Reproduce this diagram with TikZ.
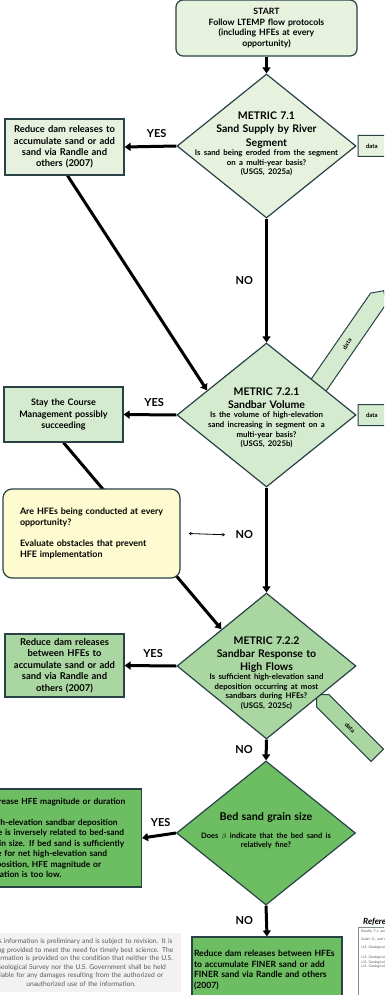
\documentclass[tikz,border=0pt]{standalone}
\usepackage{fontspec}
\setmainfont{Lato}
\usepackage{xcolor}
\usepackage{tikz}
\usetikzlibrary{arrows.meta}
\usetikzlibrary{calc}
\usetikzlibrary{shapes.geometric,shapes.symbols}
\usetikzlibrary{positioning,backgrounds}

\definecolor{rimgray}{RGB}{40,66,70}
\definecolor{palegreen}{RGB}{230,241,222}
\definecolor{lightgreen}{RGB}{213,235,207}
\definecolor{midgreen}{RGB}{170,215,161}
\definecolor{deepgreen}{RGB}{109,190,98}
\definecolor{paleyellow}{RGB}{253,251,207}
\definecolor{notegray}{RGB}{242,242,242}
\definecolor{notetext}{RGB}{90,90,90}

\begin{document}
\begin{tikzpicture}[x=1pt, y=-1pt,
        flow/.style={-{Triangle[length=6pt,width=8pt]}, line width=3pt},
        twoway/.style={{Stealth[length=3pt,width=3.5pt]}-{Stealth[length=3pt,width=3.5pt]}, line width=0.8pt},
        answer/.style={font=\bfseries\fontsize{11}{13}\selectfont, inner sep=1pt},
        box/.style={draw=rimgray, line width=1.2pt, align=center, inner sep=0pt, font=\bfseries\fontsize{9.4}{11.4}\selectfont},
        choice/.style={diamond, draw=rimgray, line width=1.2pt, minimum width=179, minimum height=144, inner sep=0pt},
        qtext/.style={align=center, text width=174, inner sep=0pt, font=\bfseries},
        tag/.style={signal, signal from=nowhere, draw=rimgray, line width=1pt, inner sep=1pt, font=\bfseries\fontsize{6}{7}\selectfont}]

            \useasboundingbox (0,0) rectangle (384,995);
            \clip (0,0) rectangle (384,995);

            % data bands, kept under the diamonds
            \draw (347,344) node[tag, fill=lightgreen, signal to=east, rotate=55.4, minimum width=120, minimum height=19] (dat2b) {data};
            \draw (350,728) node[tag, fill=midgreen, signal to=west, rotate=-45, minimum width=86, minimum height=17.5] (dat3) {data};

            \draw (266.5,28) node[box, fill=palegreen, rounded corners=7, minimum width=181, minimum height=56, text width=175, font=\bfseries\fontsize{8.7}{10.6}\selectfont] (start) {START\\ Follow LTEMP flow protocols\\ (including HFEs at every\\ opportunity)};

            \draw (266.5,146) node[choice, fill=palegreen]                 (d1) {};
            \draw (266.5,144) node[qtext]                 (d1txt) {{\fontsize{10.5}{13.3}\selectfont METRIC 7.1\\ Sand Supply by River\\ Segment\par}{\fontsize{7.8}{9.6}\selectfont Is sand being eroded from the segment\\ on a multi-year basis?\\ (USGS, 2025a)\par}};
            \draw (64.5,147) node[box, fill=palegreen, minimum width=119, minimum height=56, text width=115]                  (red1) {Reduce dam releases to\\ accumulate sand or add\\ sand via Randle and\\ others (2007)};
            \draw ([xshift=1]d1.east) node[tag, fill=palegreen, signal to=east, anchor=west, minimum width=38, minimum height=21]                  (dat1) {data};

            \draw (266.5,415) node[choice, fill=lightgreen]                 (d2) {};
            \draw (266.5,418) node[qtext]                 (d2txt) {{\fontsize{10.5}{12.5}\selectfont METRIC 7.2.1\\ Sandbar Volume\par}{\fontsize{7.8}{9.6}\selectfont Is the volume of high-elevation\\ sand increasing in segment on a\\ multi-year basis?\\ (USGS, 2025b)\par}};
            \draw (63.5,414.5) node[box, fill=lightgreen, minimum width=119, minimum height=55, text width=115, font=\bfseries\fontsize{9}{11.2}\selectfont]                  (stay) {Stay the Course\\ Management possibly\\ succeeding};
            \draw ([xshift=1]d2.east) node[tag, fill=lightgreen, signal to=east, anchor=west, minimum width=38, minimum height=21]                  (dat2) {data};

            \draw (91.5,533.5) node[box, fill=paleyellow, rounded corners=9, minimum width=177, minimum height=89, text width=157, align=left, font=\bfseries\fontsize{8.9}{10.6}\selectfont]                  (hfe) {\leftskip=7pt Are HFEs being conducted at every\\ opportunity?\\[10.6pt] Evaluate obstacles that prevent\\ HFE implementation\par};

            \draw (266.5,666) node[choice, fill=midgreen, minimum height=146]                 (d3) {};
            \draw (266.5,673) node[qtext]                 (d3txt) {{\fontsize{10.5}{13}\selectfont METRIC 7.2.2\\ Sandbar Response to\\ High Flows\par}{\fontsize{7.8}{9.6}\selectfont Is sufficient high-elevation sand\\ deposition occurring at most\\ sandbars during HFEs?\\ (USGS, 2025c)\par}};
            \draw (64.5,665.5) node[box, fill=midgreen, minimum width=119, minimum height=63, text width=115]                  (red2) {Reduce dam releases\\ between HFEs to\\ accumulate sand or add\\ sand via Randle and\\ others (2007)};

            \draw (266,833) node[choice, fill=deepgreen]                 (d4) {};
            \draw (266,831) node[qtext]                 (d4txt) {{\fontsize{10.7}{12}\selectfont Bed sand grain size\par}\vspace{9pt}{\fontsize{7.5}{9}\selectfont Does $\beta$ indicate that the bed sand is\\ relatively fine?\par}};
            \draw (142,838) node[box, fill=deepgreen, anchor=east, minimum height=98, text width=150, inner xsep=4pt, align=left, font=\bfseries\fontsize{8.4}{10.5}\selectfont]                  (incr) {Increase HFE magnitude or duration\\[10pt] High-elevation sandbar deposition\\ rate is inversely related to bed-sand\\ grain size. If bed sand is sufficiently\\ fine for net high-elevation sand\\ deposition, HFE magnitude or\\ duration is too low.};
            \draw (267,970) node[box, fill=deepgreen, minimum width=150, minimum height=66, text width=146, inner xsep=2pt, align=left, font=\bfseries\fontsize{8.6}{10.5}\selectfont]                  (red3) {Reduce dam releases between HFEs\\ to accumulate FINER sand or add\\ FINER sand via Randle and others\\ (2007)};

            % disclaimer and references
            \draw (81,962.5) node[fill=notegray, minimum width=200, minimum height=59, text width=200, align=center, text=notetext, font=\fontsize{6.7}{8.5}\selectfont, inner sep=0pt]                  (note) {This information is preliminary and is subject to revision. It is\\ being provided to meet the need for timely best science. The\\ information is provided on the condition that neither the U.S.\\ Geological Survey nor the U.S. Government shall be held\\ liable for any damages resulting from the authorized or\\ unauthorized use of the information.};
            \draw (358,927) node[draw=rimgray!60, anchor=north west, line width=0.6pt, text width=80, align=left, text=notetext, font=\fontsize{3.5}{4.6}\selectfont, inner sep=3pt]                  (refs) {Randle, T.J., and others, 2007\\[3.4pt] Salter, G., and others\\[3.4pt] U.S. Geological Survey, 2025a\\[5pt] U.S. Geological Survey, 2025b\\ U.S. Geological Survey, 2025c\\ U.S. Geological Survey\\[30pt]\mbox{}};
            \draw ([xshift=4]refs.north west) node[anchor=south west, inner sep=1pt, font=\bfseries\itshape\fontsize{8.5}{10}\selectfont]                  (refhead) {References};

            % connectors
            \draw[flow] (start.south) -- (d1.north);
            \draw[flow] (d1.south) -- node[answer, left=11pt] (no1) {NO} (d2.north);
            \draw[flow] (d2.south) -- node[answer, left=11pt, pos=0.45] (no2) {NO} (d3.north);
            \draw[flow] (d3.south) -- node[answer, left=11pt] (no3) {NO} (d4.north);
            \draw[flow] (d4.south) -- node[answer, left=11pt] (no4) {NO} (red3.north);
            \draw[flow] (d1.west) -- node[answer, above=6pt, pos=0.38] (yes1) {YES} (red1.east);
            \draw[flow] (d2.west) -- node[answer, above=6pt, pos=0.42] (yes2) {YES} (stay.east);
            \draw[flow] (d3.west) -- node[answer, above=6pt, pos=0.45] (yes3) {YES} (red2.east);
            \draw[flow] (d4.west) -- node[answer, above=6pt, pos=0.45] (yes4) {YES} (incr.east);
            \draw[twoway] ([xshift=8]hfe.east) -- ([xshift=-8]no2.west);

            \begin{scope}[on background layer]
            \draw[flow] ([xshift=3]red1.south) -- ($(d2.north)!0.66!(d2.west)$);
            \draw[flow] (stay.south) -- (d3.north west);
            \end{scope}

\end{tikzpicture}
\end{document}
